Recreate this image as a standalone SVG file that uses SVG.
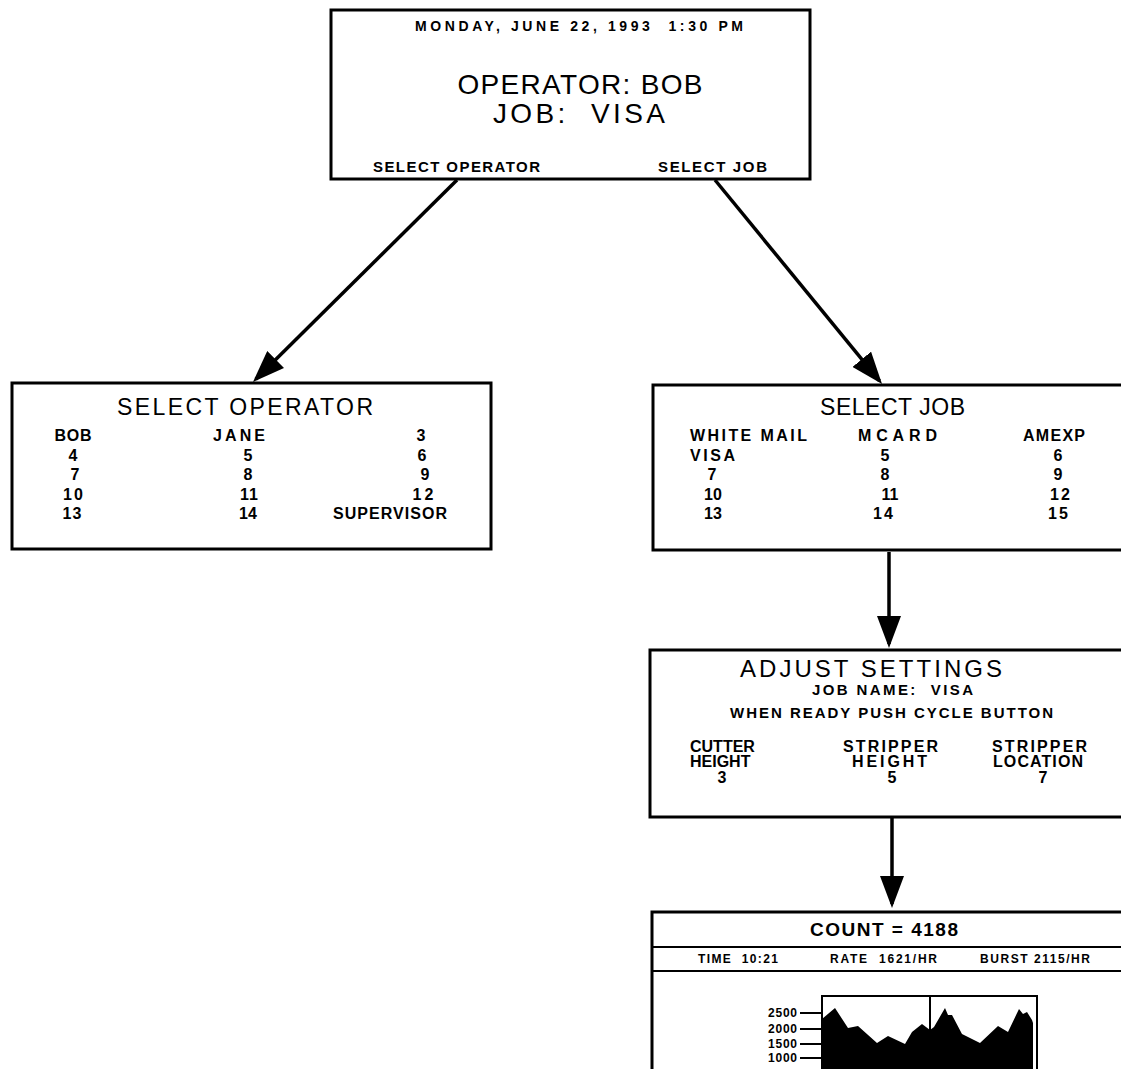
<svg xmlns="http://www.w3.org/2000/svg" width="1121" height="1069" viewBox="0 0 1121 1069">
<style>
text{font-family:"Liberation Sans",Arial,Helvetica,sans-serif;fill:#000;white-space:pre}
.b{font-weight:bold;font-size:15px}
.r{font-weight:bold;font-size:16px}
.big{font-size:28px}
.ttl{font-size:23px}
.cnt{font-weight:bold;font-size:19px}
.sm{font-weight:bold;font-size:12px}
.m{text-anchor:middle}
.box{fill:#fff;stroke:#000;stroke-width:3}
.ln{fill:none;stroke:#000;stroke-width:3.5}
.thin{fill:none;stroke:#000;stroke-width:2}
</style>
<defs>
<marker id="ah" viewBox="0 0 32 24" refX="28" refY="12" markerWidth="32" markerHeight="24" markerUnits="userSpaceOnUse" orient="auto">
<path d="M0,0 L32,12 L0,24 Z" fill="#000"/>
</marker>
</defs>
<rect width="1121" height="1069" fill="#fff"/>

<g id="connectors">
<line class="ln" x1="457" y1="180" x2="255.8" y2="379.2" marker-end="url(#ah)"/>
<line class="ln" x1="715" y1="180" x2="879.5" y2="380.9" marker-end="url(#ah)"/>
<line class="ln" x1="889" y1="552" x2="889" y2="644" marker-end="url(#ah)"/>
<line class="ln" x1="892" y1="818" x2="892" y2="904" marker-end="url(#ah)"/>
</g>

<g id="main-screen">
<rect class="box" x="331" y="10" width="479" height="169"/>
<text class="b" x="579" y="31" text-anchor="middle" textLength="328" style="font-size:14px">MONDAY, JUNE 22, 1993  1:30 PM</text>
<text class="big" x="580" y="94" text-anchor="middle" textLength="245">OPERATOR: BOB</text>
<text class="big" x="579" y="123" text-anchor="middle" textLength="172">JOB:  VISA</text>
<text class="b" x="373" y="172" textLength="167">SELECT OPERATOR</text>
<text class="b" x="658" y="172" textLength="109">SELECT JOB</text>
</g>

<g id="select-operator">
<rect class="box" x="12" y="383" width="479" height="166"/>
<text class="ttl" x="117" y="415" textLength="256">SELECT OPERATOR</text>
<g class="r m">
<text x="73" y="441" textLength="37">BOB</text>
<text x="239" y="441" textLength="52">JANE</text>
<text x="421" y="441">3</text>
<text x="73" y="461">4</text>
<text x="248" y="461">5</text>
<text x="422" y="461">6</text>
<text x="75" y="480">7</text>
<text x="248" y="480">8</text>
<text x="425" y="480">9</text>
<text x="73" y="500" textLength="20">10</text>
<text x="249" y="500" textLength="18">11</text>
<text x="423" y="500" textLength="21">12</text>
<text x="72" y="519" textLength="19">13</text>
<text x="248" y="519">14</text>
<text x="390" y="519" textLength="114">SUPERVISOR</text>
</g>
</g>

<g id="select-job">
<rect class="box" x="653" y="385" width="520" height="165"/>
<text class="ttl" x="820" y="415" textLength="145">SELECT JOB</text>
<g class="r">
<text x="690" y="441" textLength="117">WHITE MAIL</text>
<text x="858" y="441" textLength="79">MCARD</text>
<text x="1023" y="441" textLength="62">AMEXP</text>
<text x="690" y="461" textLength="45">VISA</text>
</g>
<g class="r m">
<text x="885" y="461">5</text>
<text x="1058" y="461">6</text>
<text x="712" y="480">7</text>
<text x="885" y="480">8</text>
<text x="1058" y="480">9</text>
<text x="713" y="500" textLength="18">10</text>
<text x="890" y="500" textLength="17">11</text>
<text x="1060" y="500" textLength="20">12</text>
<text x="713" y="519" textLength="18">13</text>
<text x="883" y="519" textLength="20">14</text>
<text x="1058" y="519" textLength="20">15</text>
</g>
</g>

<g id="adjust-settings">
<rect class="box" x="650" y="650" width="520" height="167"/>
<text class="ttl" x="740" y="677" textLength="262" style="font-size:24px">ADJUST SETTINGS</text>
<text class="b" x="812" y="695" textLength="161">JOB NAME:  VISA</text>
<text class="b" x="730" y="718" textLength="323">WHEN READY PUSH CYCLE BUTTON</text>
<text class="r" x="690" y="752">CUTTER</text>
<text class="r" x="690" y="767">HEIGHT</text>
<text class="r m" x="722" y="783">3</text>
<text class="r" x="843" y="752" textLength="95">STRIPPER</text>
<text class="r" x="852" y="767" textLength="75">HEIGHT</text>
<text class="r m" x="892" y="783">5</text>
<text class="r" x="992" y="752" textLength="95">STRIPPER</text>
<text class="r" x="993" y="767" textLength="90">LOCATION</text>
<text class="r m" x="1043" y="783">7</text>
</g>

<g id="count-screen">
<rect class="box" x="652" y="912" width="520" height="200"/>
<line class="thin" x1="652" y1="947" x2="1121" y2="947"/>
<line class="thin" x1="652" y1="971" x2="1121" y2="971"/>
<text class="cnt" x="810" y="936" textLength="148">COUNT = 4188</text>
<text class="sm" x="698" y="963" textLength="80">TIME  10:21</text>
<text class="sm" x="830" y="963" textLength="107">RATE  1621/HR</text>
<text class="sm" x="980" y="963" textLength="110">BURST 2115/HR</text>
<path class="thin" d="M822,1069 V996 H1037 V1069 M930,996 V1032"/>
<g class="thin">
<line x1="800" y1="1013" x2="822" y2="1013"/>
<line x1="800" y1="1029" x2="822" y2="1029"/>
<line x1="800" y1="1044" x2="822" y2="1044"/>
<line x1="800" y1="1058" x2="822" y2="1058"/>
</g>
<g class="sm">
<text x="768" y="1017" textLength="29">2500</text>
<text x="768" y="1033" textLength="29">2000</text>
<text x="768" y="1048" textLength="29">1500</text>
<text x="768" y="1062" textLength="29">1000</text>
</g>
<polygon fill="#000" points="822,1069 822,1019 835,1008 848,1028 858,1026 877,1043 888,1036 905,1044 912,1032 922,1024 930,1030 934,1027 945,1008 948,1015 952,1015 962,1034 980,1043 998,1026 1008,1032 1019,1009 1023,1014 1027,1012 1032,1020 1033,1023 1033,1069"/>
</g>
</svg>
